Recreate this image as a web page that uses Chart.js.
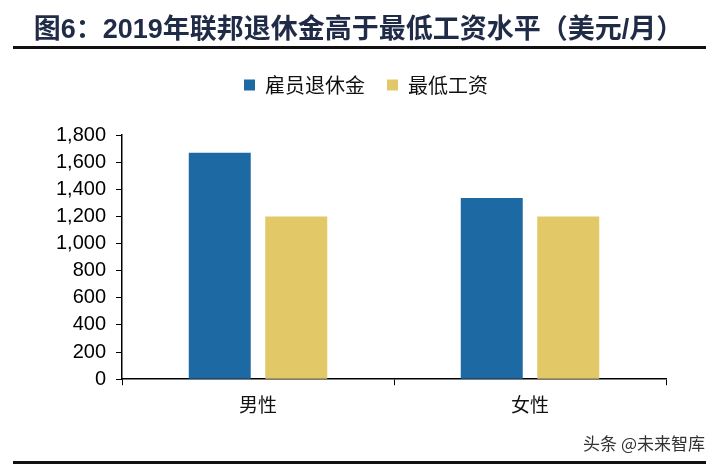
<!DOCTYPE html>
<html>
<head>
<meta charset="utf-8">
<script src="https://cdn.jsdelivr.net/npm/chart.js@4/dist/chart.umd.min.js"></script>
<style>
  html, body { margin: 0; padding: 0; background: #fff; }
  #wrap { position: relative; width: 717px; height: 470px; overflow: hidden; }
  #title {
    position: absolute; left: 0; top: 7px; width: 717px; text-align: center;
    font: bold 27px "Liberation Sans", "Noto Sans CJK SC", sans-serif;
    color: #1f2b47; white-space: nowrap;
  }
  .rule { position: absolute; left: 13px; width: 693px; height: 3px; background: #111; }
  #mark {
    position: absolute; right: 12px; top: 430px;
    font: 17px "Noto Sans CJK SC", sans-serif; color: #333;
  }
  canvas { position: absolute; left: 0; top: 0; }
</style>
</head>
<body>
<div id="wrap">
  <canvas id="c" width="717" height="470"></canvas>
  <div id="title">图6：2019年联邦退休金高于最低工资水平（美元/月）</div>
  <div class="rule" style="top:46px"></div>
  <div class="rule" style="top:461px"></div>
  <div id="mark">头条 @未来智库</div>
</div>
<script>
const categories = ["男性", "女性"];
const seriesNames = ["雇员退休金", "最低工资"];
const pension = [1670, 1335];
const minWage = [1200, 1200];
const yTicks = [0, 200, 400, 600, 800, 1000, 1200, 1400, 1600, 1800];

const blue = "#1d69a4";
const yellow = "#e2c866";

// legend sits higher and further right than Chart.js puts it by default
const legendPlace = {
  id: "legendPlace",
  beforeInit(chart) {
    const fit = chart.legend.fit;
    chart.legend.fit = function () { fit.call(this); this.height += 30; };
  },
  afterLayout(chart) {
    chart.legend.left += 33;
    chart.legend.right += 33;
  },
};

new Chart(document.getElementById("c"), {
  type: "bar",
  data: {
    labels: categories,
    datasets: [
      { label: seriesNames[0], data: pension, backgroundColor: blue },
      { label: seriesNames[1], data: minWage, backgroundColor: yellow },
    ],
  },
  options: {
    responsive: false,
    animation: false,
    layout: { padding: { top: 53, right: 51, left: 0, bottom: 46 } },
    datasets: { bar: { categoryPercentage: 0.5625, barPercentage: 0.81 } },
    plugins: {
      tooltip: { enabled: false },
      legend: {
        position: "top",
        labels: {
          boxWidth: 11, boxHeight: 11, padding: 22, color: "#111",
          font: { family: "'Noto Sans CJK SC', sans-serif", size: 20 },
        },
      },
    },
    scales: {
      x: {
        grid: { drawOnChartArea: false, drawTicks: true, tickLength: 6, color: "#000", offset: true },
        border: { color: "#000", width: 1.5 },
        ticks: { color: "#111", padding: 8, font: { family: "'Noto Sans CJK SC', sans-serif", size: 19 } },
      },
      y: {
        min: 0, max: 1800,
        afterFit: (s) => { s.width = 122; },
        afterBuildTicks: (s) => { s.ticks = yTicks.map((v) => ({ value: v })); },
        grid: { drawOnChartArea: false, drawTicks: true, tickLength: 6, color: "#000" },
        border: { color: "#000", width: 1.5 },
        ticks: {
          color: "#000", padding: 10, autoSkip: false,
          font: { family: "'Liberation Sans', Arial, sans-serif", size: 20 },
          callback: (v) => v.toLocaleString("en-US"),
        },
      },
    },
  },
  plugins: [legendPlace],
});
</script>
</body>
</html>
